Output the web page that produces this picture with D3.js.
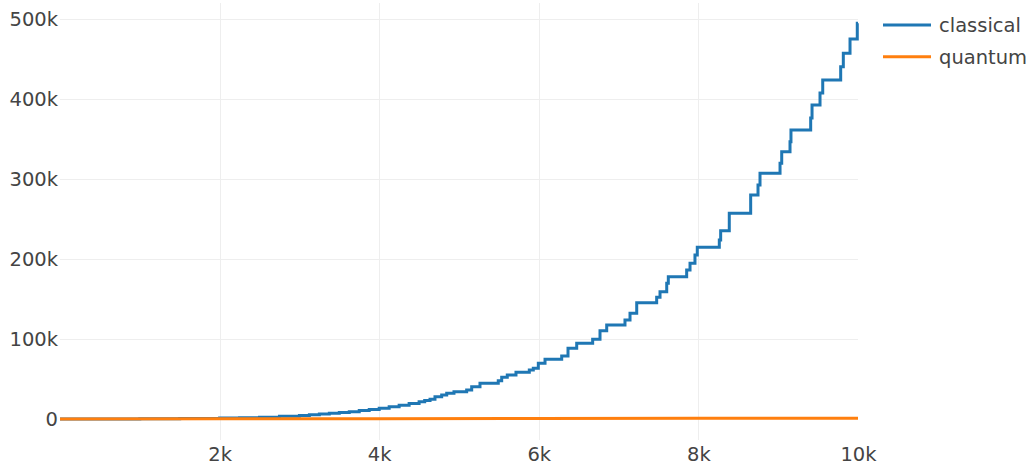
<!DOCTYPE html>
<html>
<head>
<meta charset="utf-8">
<script src="https://cdn.jsdelivr.net/npm/d3@7"></script>
<style>
  html, body { margin: 0; padding: 0; background: #fff; }
  svg { display: block; }
  text { font-family: "DejaVu Sans", Verdana, sans-serif; fill: #444; }
</style>
</head>
<body>
<svg id="chart" width="1032" height="465"></svg>
<script>
const seriesNames = ["classical", "quantum"];
const seriesColors = ["#1f77b4", "#ff7f0e"];

// classical series (step-after), x and y (thousands)
const classicalX = [0, 500, 1000, 1500, 2000, 2250, 2500, 2750, 3000, 3125, 3250, 3375, 3500, 3625, 3750, 3875, 4000, 4125, 4250, 4375, 4500, 4570,
  4637, 4699, 4783, 4846, 4937, 5096, 5159, 5263, 5492, 5535, 5605, 5714, 5881, 5931, 5994, 6078,
  6287, 6366, 6475, 6675, 6767, 6851, 7080, 7143, 7227, 7477, 7519, 7603, 7623, 7853, 7895, 7957, 7986,
  8262, 8279, 8387, 8655, 8747, 8772, 9023, 9044, 9148, 9160, 9407, 9424, 9524, 9558, 9783, 9816, 9900, 9991, 10000];
const classicalY = [0, 0.1, 0.3, 0.7, 1.2, 1.6, 2.2, 3.3, 4.5, 5.3, 6.2, 7.1, 8.0, 9.2, 10.5, 12, 13.5, 15.3, 17.2, 19.3, 21.5, 23,
  24.6, 27.9, 30, 32.1, 34.1, 36.3, 40.4, 44.6, 47.9, 52.1, 55, 58.4, 61.3, 63.4, 69.6, 74.6,
  78.8, 88.4, 94.6, 99.6, 110.4, 117.5, 123.8, 132.1, 145.4, 152.1, 159.1, 169.6, 177.9, 186.3, 194.6, 205, 214.6,
  223.8, 235.4, 257.1, 280, 292.5, 307.1, 319.6, 334.1, 346.6, 361.3, 376.3, 392.5, 407.5, 423.8, 440.4, 457.1, 475, 494.6, 494.6];

// quantum series (thousands)
const quantumX = [0, 2000, 4000, 6000, 8000, 10000];
const quantumY = [0, 0.2, 0.4, 0.6, 0.8, 1.0];

const xTicks = [2000, 4000, 6000, 8000, 10000];
const xTickLabels = ["2k", "4k", "6k", "8k", "10k"];
const yTicks = [0, 100000, 200000, 300000, 400000, 500000];
const yTickLabels = ["0", "100k", "200k", "300k", "400k", "500k"];

const svg = d3.select("#chart");
const plotLeft = 60, plotRight = 858, plotBottom = 440;

const x = d3.scaleLinear().domain([0, 10000]).range([plotLeft, plotRight]);
// 0 -> 419, 500k -> 19
const y = d3.scaleLinear().domain([0, 500000]).range([419, 19]);
const plotTop = y(520000);

// grid lines
const grid = svg.append("g");
grid.selectAll("line.yg").data(yTicks.filter(d => d !== 0)).enter().append("line")
  .attr("x1", plotLeft).attr("x2", plotRight)
  .attr("y1", d => Math.round(y(d)) + 0.5).attr("y2", d => Math.round(y(d)) + 0.5)
  .attr("stroke", "#eee").attr("stroke-width", 1);
grid.selectAll("line.xg").data(xTicks.filter(d => d < 10000)).enter().append("line")
  .attr("y1", plotTop).attr("y2", plotBottom)
  .attr("x1", d => Math.round(x(d)) + 0.5).attr("x2", d => Math.round(x(d)) + 0.5)
  .attr("stroke", "#eee").attr("stroke-width", 1);

// axes via d3
const xAxis = d3.axisBottom(x).tickValues(xTicks).tickFormat((d, i) => xTickLabels[i]).tickSize(0).tickPadding(0);
const gx = svg.append("g").attr("transform", `translate(0,${plotBottom})`).call(xAxis);
gx.select(".domain").remove();
gx.selectAll("text").attr("y", 21).attr("dy", 0).style("font-size", "19.5px")
  .style("font-family", '"DejaVu Sans", Verdana, sans-serif').attr("fill", "#444");

const yAxis = d3.axisLeft(y).tickValues(yTicks).tickFormat((d, i) => yTickLabels[i]).tickSize(0).tickPadding(0);
const gy = svg.append("g").attr("transform", `translate(${plotLeft - 2},0)`).call(yAxis);
gy.select(".domain").remove();
gy.selectAll("text").attr("x", 0).attr("dy", "0.33em").style("font-size", "19.5px")
  .style("font-family", '"DejaVu Sans", Verdana, sans-serif').attr("fill", "#444");

// lines
const classical = classicalX.map((d, i) => [d, classicalY[i] * 1000]);
const quantum = quantumX.map((d, i) => [d, quantumY[i] * 1000]);

const stepLine = d3.line().x(d => x(d[0])).y(d => y(d[1])).curve(d3.curveStepAfter);
const plainLine = d3.line().x(d => x(d[0])).y(d => y(d[1]));

svg.append("path").datum(classical).attr("d", stepLine)
  .attr("fill", "none").attr("stroke", seriesColors[0]).attr("stroke-width", 3).attr("stroke-linejoin", "miter");
svg.append("path").datum(quantum).attr("d", plainLine)
  .attr("fill", "none").attr("stroke", seriesColors[1]).attr("stroke-width", 3);

// legend
const legend = svg.append("g");
seriesNames.forEach((name, i) => {
  const ly = 25 + i * 31.7;
  legend.append("line").attr("x1", 883).attr("x2", 931).attr("y1", ly).attr("y2", ly)
    .attr("stroke", seriesColors[i]).attr("stroke-width", 3);
  legend.append("text").attr("x", 939).attr("y", ly).attr("dy", "0.35em")
    .style("font-size", "19.5px").text(name);
});
</script>
</body>
</html>
